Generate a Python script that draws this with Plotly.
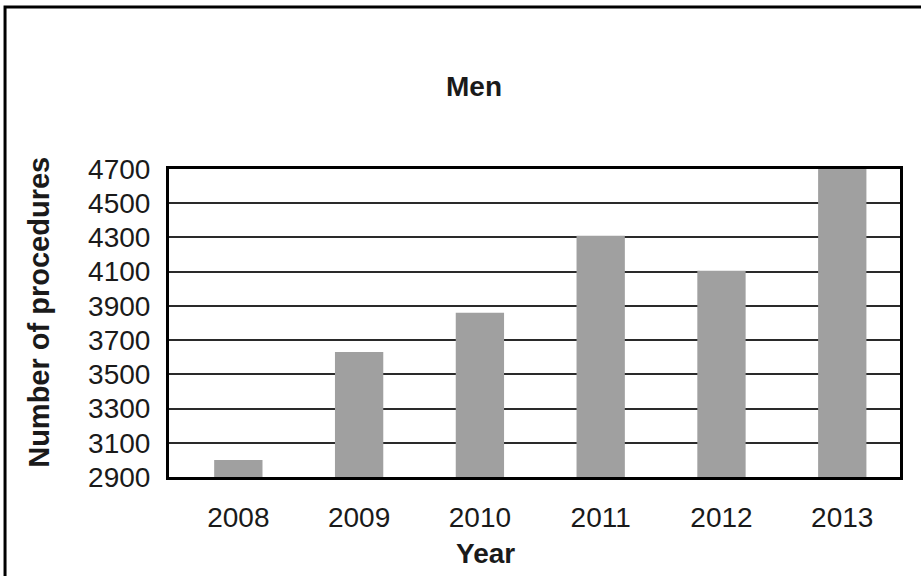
import plotly.graph_objects as go

# Annual procedure counts for men
years = ["2008", "2009", "2010", "2011", "2012", "2013"]
procedures = [3000, 3630, 3860, 4310, 4105, 4700]
y_ticks = [2900, 3100, 3300, 3500, 3700, 3900, 4100, 4300, 4500, 4700]

FONT = "Liberation Sans, Arial, Helvetica, sans-serif"

fig = go.Figure(
    go.Bar(
        x=years,
        y=procedures,
        marker=dict(color="#a0a0a0", line=dict(width=0)),
        width=0.4,
    )
)

fig.update_layout(
    width=921,
    height=576,
    margin=dict(l=169, r=21, t=169, b=99),
    paper_bgcolor="white",
    plot_bgcolor="white",
    showlegend=False,
    font=dict(family=FONT, color="#1a1a1a", size=28),
)

fig.update_xaxes(
    type="category",
    range=[-0.574, 5.478],
    showgrid=False,
    showline=True,
    linecolor="black",
    linewidth=3,
    mirror=True,
    ticks="",
    ticklabelstandoff=13,
    tickfont=dict(size=28, family=FONT, color="#1a1a1a"),
)

fig.update_yaxes(
    range=[2900, 4700],
    tickvals=y_ticks,
    ticktext=[str(v) for v in y_ticks],
    showgrid=True,
    gridcolor="#2a2a2a",
    gridwidth=2,
    zeroline=False,
    showline=True,
    linecolor="black",
    linewidth=3,
    mirror=True,
    ticks="",
    ticklabelstandoff=10,
    tickfont=dict(size=28, family=FONT, color="#1a1a1a"),
)

# Titles placed in paper coordinates
fig.add_annotation(
    text="<b>Men</b>", x=0.417, y=1.269, xref="paper", yref="paper",
    showarrow=False, font=dict(size=28, family=FONT, color="#1a1a1a"),
    xanchor="center", yanchor="middle",
)
fig.add_annotation(
    text="<b>Year</b>", x=0.433, y=-0.247, xref="paper", yref="paper",
    showarrow=False, font=dict(size=28, family=FONT, color="#1a1a1a"),
    xanchor="center", yanchor="middle",
)
fig.add_annotation(
    text="<b>Number of procedures</b>", x=-0.178, y=0.536, xref="paper", yref="paper",
    showarrow=False, textangle=-90, font=dict(size=29, family=FONT, color="#1a1a1a"),
    xanchor="center", yanchor="middle",
)

# Outer frame around the whole chart
fig.add_shape(
    type="rect", xref="paper", yref="paper",
    x0=-0.2243, x1=1.2, y0=-0.5, y1=1.526,
    line=dict(color="black", width=3), fillcolor="rgba(0,0,0,0)",
    layer="above",
)

fig.write_html("out.html")
